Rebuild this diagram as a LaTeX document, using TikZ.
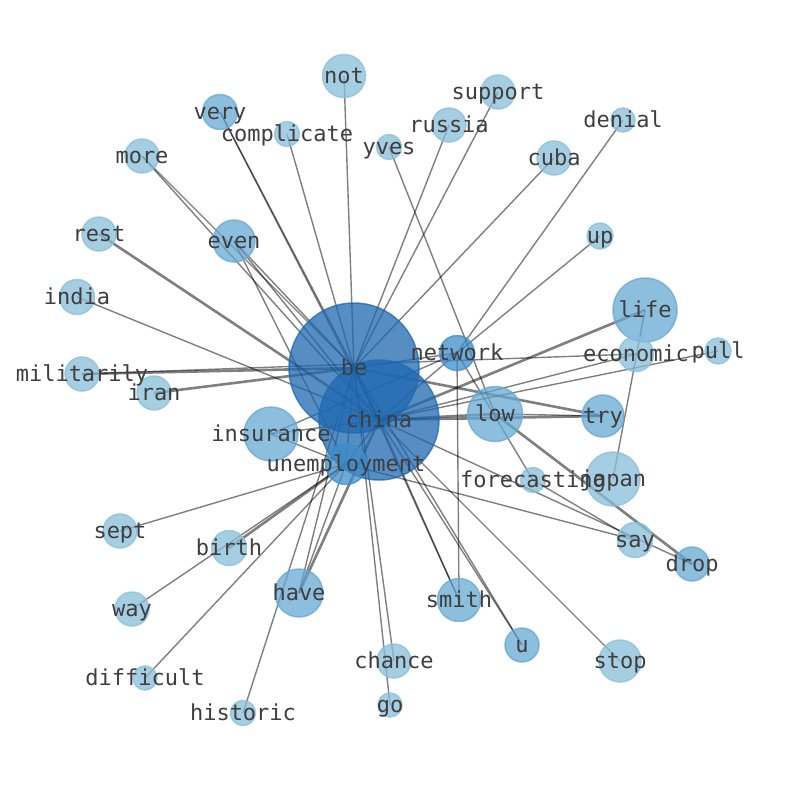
\documentclass[tikz,border=0pt]{standalone}
\usepackage{fontspec}
\usepackage{tikz}
\usetikzlibrary{backgrounds}
\newfontfamily\wordfont{DejaVu Sans Mono}
\definecolor{paleblue}{RGB}{136,190,218}
\definecolor{midblue}{RGB}{102,168,211}
\definecolor{deepblue}{RGB}{62,142,202}
\definecolor{hubblue}{RGB}{30,104,176}
\definecolor{wordgray}{RGB}{62,62,62}

\begin{document}
\begin{tikzpicture}[
    x=1pt, y=-1pt,
    word/.style={circle, inner sep=0pt, line width=1.5pt, opacity=0.75},
    palenode/.style={word, draw=paleblue, fill=paleblue},
    midnode/.style={word, draw=midblue, fill=midblue},
    deepnode/.style={word, draw=deepblue, fill=deepblue},
    hubnode/.style={word, draw=hubblue, fill=hubblue},
    tag/.style={font=\wordfont\fontsize{22}{22}\selectfont, text=wordgray, inner sep=0pt, anchor=base, yshift=-7pt},
    link/.style={black, opacity=0.5, line width=1.4pt},
    heavy/.style={link, line width=2.6pt}
]
    \useasboundingbox (0,0) rectangle (794,790);

    % Hub words
    \node [hubnode, minimum size=130pt] (be) at (354,368) {};
    \node [hubnode, minimum size=120pt] (china) at (379,420) {};
    \node [deepnode, minimum size=35pt] (network) at (457,353) {};
    \node [deepnode, minimum size=41pt] (unemployment) at (346,464) {};

    % Upper half
    \node [palenode, minimum size=43pt] (not) at (344,76) {};
    \node [midnode, minimum size=35pt] (very) at (220,112) {};
    \node [palenode, minimum size=25pt] (complicate) at (287,134) {};
    \node [palenode, minimum size=34pt] (more) at (142,156) {};
    \node [palenode, minimum size=25pt] (yves) at (389,147) {};
    \node [palenode, minimum size=34pt] (russia) at (449,125) {};
    \node [palenode, minimum size=34pt] (support) at (498,92) {};
    \node [palenode, minimum size=34pt] (cuba) at (554,158) {};
    \node [palenode, minimum size=24pt] (denial) at (623,120) {};
    \node [palenode, minimum size=26pt] (up) at (600,236) {};
    \node [palenode, minimum size=34pt] (rest) at (99,234) {};
    \node [midnode, minimum size=42pt] (even) at (234,241) {};
    \node [palenode, minimum size=35pt] (india) at (77,297) {};
    \node [midnode, minimum size=64pt] (life) at (645,310) {};
    \node [palenode, minimum size=35pt] (economic) at (636,354) {};
    \node [palenode, minimum size=26pt] (pull) at (718,351) {};
    \node [palenode, minimum size=34pt] (militarily) at (82,374) {};
    \node [palenode, minimum size=34pt] (iran) at (154,393) {};

    % Lower half
    \node [midnode, minimum size=54pt] (insurance) at (271,434) {};
    \node [midnode, minimum size=55pt] (low) at (495,414) {};
    \node [midnode, minimum size=42pt] (try) at (603,416) {};
    \node [palenode, minimum size=54pt] (japan) at (613,479) {};
    \node [palenode, minimum size=25pt] (forecasting) at (533,480) {};
    \node [palenode, minimum size=35pt] (say) at (635,540) {};
    \node [midnode, minimum size=34pt] (drop) at (692,564) {};
    \node [palenode, minimum size=34pt] (sept) at (120,531) {};
    \node [palenode, minimum size=35pt] (birth) at (229,548) {};
    \node [midnode, minimum size=48pt] (have) at (299,593) {};
    \node [midnode, minimum size=43pt] (smith) at (459,600) {};
    \node [palenode, minimum size=34pt] (way) at (132,609) {};
    \node [midnode, minimum size=34pt] (u) at (522,645) {};
    \node [palenode, minimum size=34pt] (chance) at (394,661) {};
    \node [palenode, minimum size=42pt] (stop) at (620,661) {};
    \node [palenode, minimum size=24pt] (difficult) at (145,678) {};
    \node [palenode, minimum size=24pt] (go) at (390,705) {};
    \node [palenode, minimum size=25pt] (historic) at (243,713) {};

    % Connections
    \begin{scope}[on background layer]
    \draw [heavy] (be.center) -- (china.center);
    \draw [link] (be.center) -- (unemployment.center);
    \draw [link] (china.center) -- (unemployment.center);
    \draw [link] (network.center) -- (be.center);
    \draw [link] (network.center) -- (china.center);
    \draw [link] (not.center) -- (be.center);
    \draw [link] (very.center) -- (be.center);
    \draw [link] (very.center) -- (china.center);
    \draw [link] (complicate.center) -- (be.center);
    \draw [link] (more.center) -- (be.center);
    \draw [link] (more.center) -- (china.center);
    \draw [link] (even.center) -- (be.center);
    \draw [link] (even.center) -- (china.center);
    \draw [link] (even.center) -- (unemployment.center);
    \draw [heavy] (rest.center) -- (china.center);
    \draw [link] (india.center) -- (china.center);
    \draw [heavy] (militarily.center) -- (be.center);
    \draw [link] (militarily.center) -- (economic.center);
    \draw [heavy] (iran.center) -- (be.center);
    \draw [link] (insurance.center) -- (china.center);
    \draw [link] (insurance.center) -- (network.center);
    \draw [link] (insurance.center) -- (unemployment.center);
    \draw [link] (sept.center) -- (unemployment.center);
    \draw [heavy] (birth.center) -- (unemployment.center);
    \draw [link] (way.center) -- (unemployment.center);
    \draw [link] (difficult.center) -- (unemployment.center);
    \draw [link] (historic.center) -- (be.center);
    \draw [heavy] (have.center) -- (china.center);
    \draw [link] (have.center) -- (unemployment.center);
    \draw [link] (have.center) -- (be.center);
    \draw [link] (chance.center) -- (be.center);
    \draw [link] (go.center) -- (be.center);
    \draw [link] (smith.center) -- (china.center);
    \draw [link] (smith.center) -- (be.center);
    \draw [link] (smith.center) -- (network.center);
    \draw [link] (u.center) -- (china.center);
    \draw [link] (u.center) -- (be.center);
    \draw [link] (stop.center) -- (china.center);
    \draw [link] (say.center) -- (unemployment.center);
    \draw [link] (forecasting.center) -- (say.center);
    \draw [link] (network.center) -- (forecasting.center);
    \draw [link] (drop.center) -- (china.center);
    \draw [heavy] (drop.center) -- (low.center);
    \draw [heavy] (try.center) -- (be.center);
    \draw [heavy] (try.center) -- (china.center);
    \draw [link] (try.center) -- (low.center);
    \draw [heavy] (low.center) -- (china.center);
    \draw [heavy] (life.center) -- (china.center);
    \draw [link] (life.center) -- (japan.center);
    \draw [link] (pull.center) -- (china.center);
    \draw [link] (economic.center) -- (china.center);
    \draw [link] (yves.center) -- (low.center);
    \draw [link] (russia.center) -- (be.center);
    \draw [link] (support.center) -- (be.center);
    \draw [link] (cuba.center) -- (be.center);
    \draw [link] (denial.center) -- (network.center);
    \draw [link] (up.center) -- (network.center);
    \end{scope}

    % Word labels
    \node [tag] (be-t) at (be) {be};
    \node [tag] (china-t) at (china) {china};
    \node [tag] (network-t) at (network) {network};
    \node [tag] (unemployment-t) at (unemployment) {unemployment};
    \node [tag] (not-t) at (not) {not};
    \node [tag] (very-t) at (very) {very};
    \node [tag] (complicate-t) at (complicate) {complicate};
    \node [tag] (more-t) at (more) {more};
    \node [tag] (yves-t) at (yves) {yves};
    \node [tag] (russia-t) at (russia) {russia};
    \node [tag] (support-t) at (support) {support};
    \node [tag] (cuba-t) at (cuba) {cuba};
    \node [tag] (denial-t) at (denial) {denial};
    \node [tag] (up-t) at (up) {up};
    \node [tag] (rest-t) at (rest) {rest};
    \node [tag] (even-t) at (even) {even};
    \node [tag] (india-t) at (india) {india};
    \node [tag] (life-t) at (life) {life};
    \node [tag] (economic-t) at (economic) {economic};
    \node [tag] (pull-t) at (pull) {pull};
    \node [tag] (militarily-t) at (militarily) {militarily};
    \node [tag] (iran-t) at (iran) {iran};
    \node [tag] (insurance-t) at (insurance) {insurance};
    \node [tag] (low-t) at (low) {low};
    \node [tag] (try-t) at (try) {try};
    \node [tag] (japan-t) at (japan) {japan};
    \node [tag] (forecasting-t) at (forecasting) {forecasting};
    \node [tag] (say-t) at (say) {say};
    \node [tag] (drop-t) at (drop) {drop};
    \node [tag] (sept-t) at (sept) {sept};
    \node [tag] (birth-t) at (birth) {birth};
    \node [tag] (have-t) at (have) {have};
    \node [tag] (smith-t) at (smith) {smith};
    \node [tag] (way-t) at (way) {way};
    \node [tag] (u-t) at (u) {u};
    \node [tag] (chance-t) at (chance) {chance};
    \node [tag] (stop-t) at (stop) {stop};
    \node [tag] (difficult-t) at (difficult) {difficult};
    \node [tag] (go-t) at (go) {go};
    \node [tag] (historic-t) at (historic) {historic};
\end{tikzpicture}
\end{document}
